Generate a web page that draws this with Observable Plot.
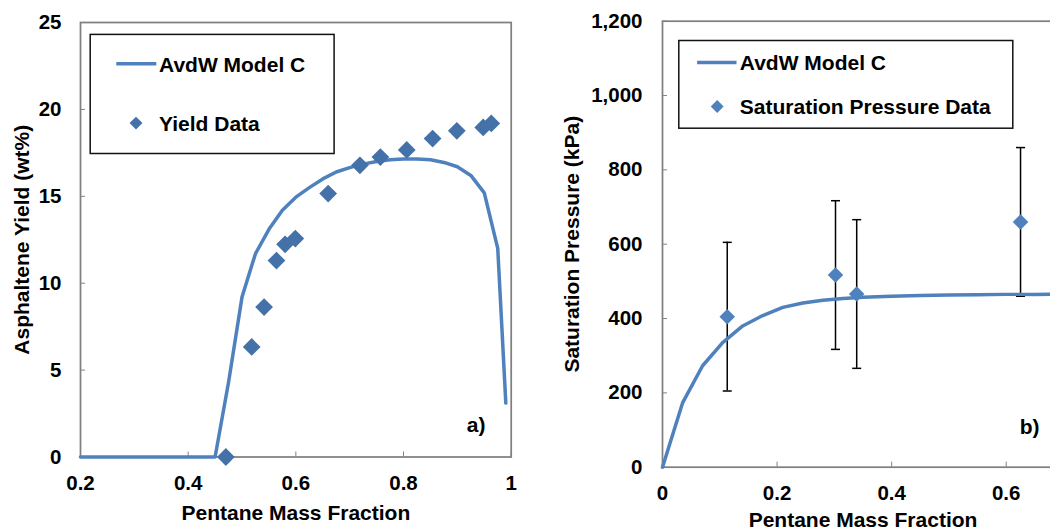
<!DOCTYPE html>
<html>
<head>
<meta charset="utf-8">
<script src="https://cdn.jsdelivr.net/npm/d3@7"></script>
<script src="https://cdn.jsdelivr.net/npm/@observablehq/plot@0.6"></script>
<style>
  html, body { margin: 0; padding: 0; background: #fff; overflow: hidden; }
  #wrap { position: relative; width: 1050px; height: 531px; overflow: hidden; background: #fff; }
  #wrap > div { position: absolute; top: 0; }
  #wrap svg { max-width: none !important; }
</style>
</head>
<body>
<div id="wrap"><div id="pa" style="left:0px;width:530px"></div><div id="pb" style="left:540px;width:523px"></div></div>
<script>
// ---------- Panel a) data ----------
const yieldX = [0.470, 0.518, 0.541, 0.564, 0.580, 0.599, 0.660, 0.719, 0.757, 0.806, 0.854, 0.899, 0.948, 0.963];
const yieldY = [0.0, 6.33, 8.63, 11.3, 12.24, 12.57, 15.16, 16.78, 17.26, 17.67, 18.32, 18.77, 18.96, 19.19];
const modelAX = [0.2, 0.3, 0.4, 0.45, 0.475, 0.5, 0.525, 0.55, 0.575, 0.6, 0.625, 0.65, 0.675, 0.7, 0.725, 0.75, 0.775, 0.8, 0.825, 0.85, 0.875, 0.9, 0.925, 0.95, 0.975, 0.99];
const modelAY = [0, 0, 0, 0, 4.3, 9.2, 11.7, 13.1, 14.2, 14.95, 15.5, 16.0, 16.4, 16.65, 16.85, 17.0, 17.1, 17.15, 17.15, 17.1, 16.95, 16.7, 16.2, 15.2, 12.0, 3.1];
const xTicksA = [0.2, 0.4, 0.6, 0.8, 1];
const yTicksA = [0, 5, 10, 15, 20, 25];

// ---------- Panel b) data ----------
const satX = [0.113, 0.302, 0.339, 0.625];
const satY = [405, 517, 466, 660];
const satErr = [200, 200, 200, 200];
const modelBX = [0, 0.035, 0.07, 0.105, 0.14, 0.175, 0.21, 0.245, 0.28, 0.315, 0.35, 0.4, 0.45, 0.5, 0.55, 0.6, 0.65, 0.7];
const modelBY = [0, 173, 273, 335, 380, 408, 430, 442, 449, 454, 457, 460, 462, 463, 464, 465, 465, 466];
const xTicksB = [0, 0.2, 0.4, 0.6];
const yTicksB = [0, 200, 400, 600, 800, 1000, 1200];

// ---------- Text ----------
const xTitle = "Pentane Mass Fraction";
const yTitleA = "Asphaltene Yield (wt%)";
const yTitleB = "Saturation Pressure (kPa)";
const seriesModel = "AvdW Model C";
const seriesYield = "Yield Data";
const seriesSat = "Saturation Pressure Data";
const tagA = "a)";
const tagB = "b)";

const lineColor = "#4F81BD";
const dotColorA = "#4472A8";
const dotColorB = "#4F81BD";
const font = "'Liberation Sans', Arial, Helvetica, sans-serif";

const modelA = modelAX.map((x, i) => ({x, y: modelAY[i]}));
const yieldData = yieldX.map((x, i) => ({x, y: yieldY[i]}));
const modelB = modelBX.map((x, i) => ({x, y: modelBY[i]}));
const satData = satX.map((x, i) => ({x, y: satY[i], lo: satY[i] - satErr[i], hi: satY[i] + satErr[i]}));

const hline = (half) => ({draw(ctx) { ctx.moveTo(-half, 0); ctx.lineTo(half, 0); }});

const baseStyle = {fontFamily: font, fontWeight: "bold", fontSize: "20px", color: "black", background: "white", overflow: "visible", maxWidth: "none"};
const tickFont = {fontSize: 20.5, fontWeight: "bold", fontFamily: font};
const titleFont = {fontSize: 21, fontWeight: "bold", fontFamily: font, fill: "black"};

// ---------- Panel a) ----------
const plotA = Plot.plot({
  width: 530, height: 531,
  marginLeft: 80, marginRight: 19.3, marginTop: 22, marginBottom: 74.5,
  style: baseStyle,
  x: {domain: [0.2, 1], label: null},
  y: {domain: [0, 25], label: null},
  marks: [
    Plot.frame({stroke: "#808080", strokeWidth: 1.75}),
    Plot.axisX(xTicksA, {tickSize: 5, dy: -5, tickPadding: 18, stroke: "#808080", tickFormat: d => String(d), label: null, ...tickFont}),
    Plot.axisY(yTicksA, {tickSize: 5, dx: 5, tickPadding: 19, stroke: "#808080", tickFormat: d => String(d), label: null, ...tickFont}),
    Plot.line(modelA, {x: "x", y: "y", stroke: lineColor, strokeWidth: 3.5, curve: "linear"}),
    Plot.dot(yieldData, {x: "x", y: "y", symbol: "diamond2", r: 8, fill: dotColorA, stroke: "none"}),
    // legend
    Plot.frame({insetLeft: 9.7, insetTop: 11.9, insetRight: 177.1, insetBottom: 303.5, stroke: "#111", strokeWidth: 1.5}),
    Plot.dot([seriesModel], {frameAnchor: "top-left", dx: 55.8, dy: 41.3, symbol: hline(20), stroke: lineColor, strokeWidth: 3.5, fill: "none"}),
    Plot.text([seriesModel], {frameAnchor: "top-left", dx: 78.5, dy: 49.1, text: d => d, textAnchor: "start", lineAnchor: "bottom", ...titleFont}),
    Plot.dot([seriesYield], {frameAnchor: "top-left", dx: 55.5, dy: 100.6, symbol: "diamond2", r: 5.8, fill: dotColorA, stroke: "none"}),
    Plot.text([seriesYield], {frameAnchor: "top-left", dx: 78.5, dy: 108.4, text: d => d, textAnchor: "start", lineAnchor: "bottom", ...titleFont}),
    // titles & tag
    Plot.text([xTitle], {frameAnchor: "bottom", dy: 62.8, text: d => d, textAnchor: "middle", lineAnchor: "bottom", ...titleFont}),
    Plot.text([yTitleA], {frameAnchor: "left", dx: -52, rotate: -90, text: d => d, textAnchor: "middle", lineAnchor: "bottom", ...titleFont}),
    Plot.text([tagA], {frameAnchor: "bottom-right", dx: -25.7, dy: -25.5, text: d => d, textAnchor: "end", lineAnchor: "bottom", ...titleFont})
  ]
});
document.getElementById("pa").appendChild(plotA);

// ---------- Panel b) ----------
const plotB = Plot.plot({
  width: 523, height: 531,
  marginLeft: 122, marginRight: 0, marginTop: 20.7, marginBottom: 64.3,
  style: baseStyle,
  x: {domain: [0, 0.7], label: null},
  y: {domain: [0, 1200], label: null},
  marks: [
    Plot.frame({stroke: "#808080", strokeWidth: 1.75}),
    Plot.axisX(xTicksB, {tickSize: 5, dy: -5, tickPadding: 18, stroke: "#808080", tickFormat: d => String(d), label: null, ...tickFont}),
    Plot.axisY(yTicksB, {tickSize: 5, dx: 5, tickPadding: 20, stroke: "#808080", tickFormat: d3.format(","), label: null, ...tickFont}),
    Plot.ruleX(satData, {x: "x", y1: "lo", y2: "hi", stroke: "black", strokeWidth: 1.5}),
    Plot.dot(satData, {x: "x", y: "hi", symbol: hline(4.5), stroke: "black", strokeWidth: 1.5, fill: "none"}),
    Plot.dot(satData, {x: "x", y: "lo", symbol: hline(4.5), stroke: "black", strokeWidth: 1.5, fill: "none"}),
    Plot.line(modelB, {x: "x", y: "y", stroke: lineColor, strokeWidth: 3.5, curve: "linear"}),
    Plot.dot(satData, {x: "x", y: "y", symbol: "diamond2", r: 7, fill: dotColorB, stroke: "none"}),
    // legend
    Plot.frame({insetLeft: 16.3, insetTop: 19.3, insetRight: 50.7, insetBottom: 339, stroke: "#111", strokeWidth: 1.5}),
    Plot.dot([seriesModel], {frameAnchor: "top-left", dx: 54.3, dy: 41.3, symbol: hline(19.7), stroke: lineColor, strokeWidth: 3.5, fill: "none"}),
    Plot.text([seriesModel], {frameAnchor: "top-left", dx: 77.3, dy: 48.7, text: d => d, textAnchor: "start", lineAnchor: "bottom", ...titleFont}),
    Plot.dot([seriesSat], {frameAnchor: "top-left", dx: 54.7, dy: 85.3, symbol: "diamond2", r: 5.8, fill: dotColorB, stroke: "none"}),
    Plot.text([seriesSat], {frameAnchor: "top-left", dx: 77.3, dy: 92.7, text: d => d, textAnchor: "start", lineAnchor: "bottom", ...titleFont}),
    // titles & tag
    Plot.text([xTitle], {frameAnchor: "bottom", dy: 59.5, text: d => d, textAnchor: "middle", lineAnchor: "bottom", ...titleFont}),
    Plot.text([yTitleB], {frameAnchor: "left", dx: -83.5, rotate: -90, text: d => d, textAnchor: "middle", lineAnchor: "bottom", ...titleFont}),
    Plot.text([tagB], {frameAnchor: "bottom-right", dx: -24, dy: -33.7, text: d => d, textAnchor: "end", lineAnchor: "bottom", ...titleFont})
  ]
});
document.getElementById("pb").appendChild(plotB);
</script>
</body>
</html>
